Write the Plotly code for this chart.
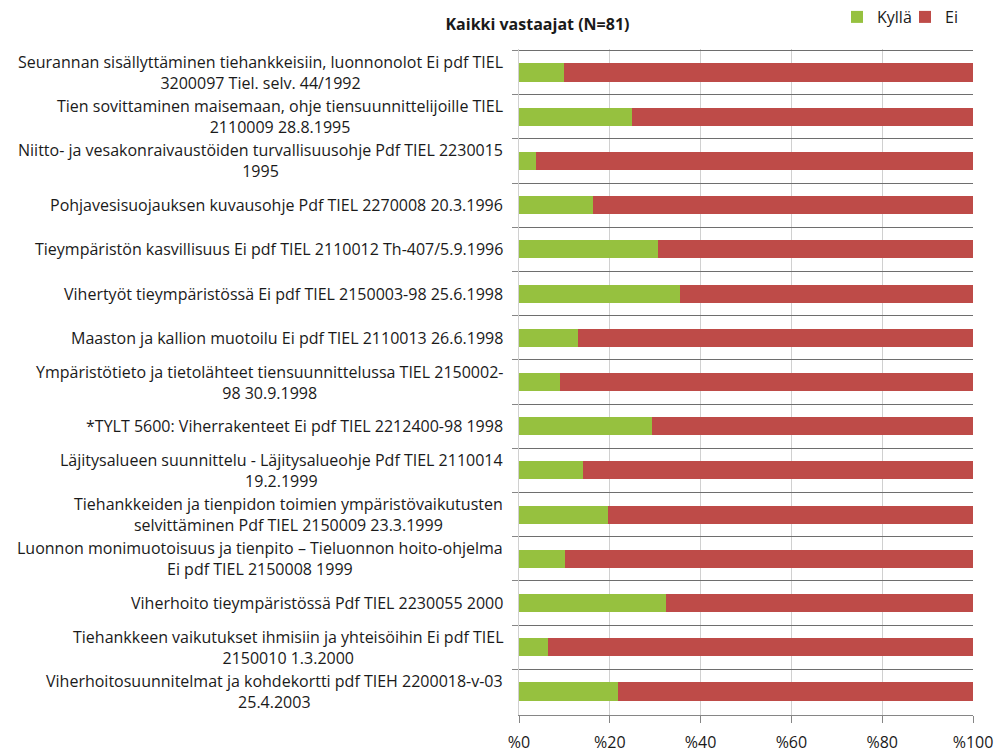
import plotly.graph_objects as go

categories = [
    "Seurannan sisällyttäminen tiehankkeisiin, luonnonolot Ei pdf TIEL<br>3200097 Tiel. selv. 44/1992",
    "Tien sovittaminen maisemaan, ohje tiensuunnittelijoille TIEL<br>2110009 28.8.1995",
    "Niitto- ja vesakonraivaustöiden turvallisuusohje Pdf TIEL 2230015<br>1995",
    "Pohjavesisuojauksen kuvausohje Pdf TIEL 2270008 20.3.1996",
    "Tieympäristön kasvillisuus Ei pdf TIEL 2110012 Th-407/5.9.1996",
    "Vihertyöt tieympäristössä Ei pdf TIEL 2150003-98 25.6.1998",
    "Maaston ja kallion muotoilu Ei pdf TIEL 2110013 26.6.1998",
    "Ympäristötieto ja tietolähteet tiensuunnittelussa TIEL 2150002-<br>98 30.9.1998",
    "*TYLT 5600: Viherrakenteet Ei pdf TIEL 2212400-98 1998",
    "Läjitysalueen suunnittelu - Läjitysalueohje Pdf TIEL 2110014<br>19.2.1999",
    "Tiehankkeiden ja tienpidon toimien ympäristövaikutusten<br>selvittäminen Pdf TIEL 2150009 23.3.1999",
    "Luonnon monimuotoisuus ja tienpito – Tieluonnon hoito-ohjelma<br>Ei pdf TIEL 2150008 1999",
    "Viherhoito tieympäristössä Pdf TIEL 2230055 2000",
    "Tiehankkeen vaikutukset ihmisiin ja yhteisöihin Ei pdf TIEL<br>2150010 1.3.2000",
    "Viherhoitosuunnitelmat ja kohdekortti pdf TIEH 2200018-v-03<br>25.4.2003",
]
kylla = [9.9, 24.9, 3.7, 16.2, 30.7, 35.4, 12.9, 9.0, 29.4, 14.0, 19.7, 10.1, 32.3, 6.4, 21.7]
ei = [90.1, 75.1, 96.3, 83.8, 69.3, 64.6, 87.1, 91.0, 70.6, 86.0, 80.3, 89.9, 67.7, 93.6, 78.3]
x_tickvals = [0, 20, 40, 60, 80, 100]
x_ticktext = ["%0", "%20", "%40", "%60", "%80", "%100"]
title_text = "Kaikki vastaajat (N=81)"

FONT = "Open Sans"
GREEN = "#96C13F"
RED = "#BE4B48"
TXT = "#1a1a1a"

fig = go.Figure()
fig.add_trace(go.Bar(y=categories, x=kylla, orientation="h", name="Kyllä",
                     marker=dict(color=GREEN, line=dict(width=0))))
fig.add_trace(go.Bar(y=categories, x=ei, orientation="h", name="Ei",
                     marker=dict(color=RED, line=dict(width=0))))

for c in categories:
    fig.add_annotation(x=0, xref="paper", y=c, yref="y", text=c,
                       xanchor="right", xshift=-14, align="center",
                       showarrow=False, font=dict(family=FONT, size=16, color=TXT))

fig.update_layout(
    width=999, height=752,
    margin=dict(l=519, r=26, t=49, b=37, autoexpand=False),
    plot_bgcolor="white", paper_bgcolor="white",
    barmode="stack", bargap=0.59,
    font=dict(family=FONT, color=TXT),
    title=dict(text="<b>" + title_text + "</b>", x=0.538, xanchor="center",
               y=0.967, yanchor="middle", font=dict(family=FONT, size=16, color=TXT)),
    legend=dict(orientation="h", x=1.0, xanchor="right", y=1.0, yref="container",
                yanchor="top", font=dict(family=FONT, size=16, color=TXT),
                traceorder="normal", itemwidth=30, entrywidth=23),
    showlegend=True,
)
fig.update_xaxes(range=[0, 100], tickvals=x_tickvals, ticktext=x_ticktext,
                 showgrid=True, gridcolor="#D0D0D0", gridwidth=1,
                 zeroline=False, showline=True, linecolor="#868686", linewidth=1,
                 ticks="outside", ticklen=7, tickcolor="#868686",
                 ticklabelstandoff=6, ticklabeloverflow="allow",
                 tickfont=dict(family=FONT, size=16, color=TXT))
fig.update_yaxes(type="category", autorange="reversed", tickson="boundaries",
                 showticklabels=False, showgrid=True, gridcolor="#6E6E6E", gridwidth=1,
                 ticks="outside", ticklen=6, tickcolor="#868686",
                 showline=True, linecolor="#D0D0D0", linewidth=1)

# remove the browser's default 8px page margin so the figure fills the window
fig.write_html("out.html", config={"displayModeBar": False},
               post_script="document.body.style.margin='0';document.body.style.overflow='hidden';")
